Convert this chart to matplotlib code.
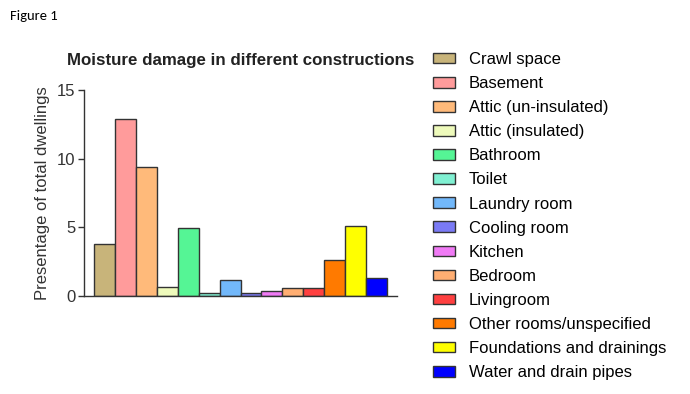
import matplotlib
matplotlib.use('Agg')
import matplotlib.pyplot as plt
from matplotlib.patches import Patch

# kategorier og verdier lest av figuren
categories = ['Crawl space', 'Basement', 'Attic (un-insulated)', 'Attic (insulated)',
              'Bathroom', 'Toilet', 'Laundry room', 'Cooling room', 'Kitchen',
              'Bedroom', 'Livingroom', 'Other rooms/unspecified',
              'Foundations and drainings', 'Water and drain pipes']
values = [3.8, 12.9, 9.4, 0.65, 4.95, 0.2, 1.2, 0.2, 0.4, 0.6, 0.6, 2.6, 5.1, 1.3]
colors = ['#C8B47A', '#FF9B9B', '#FFBA7A', '#EEFABB', '#55F595', '#80F0D2',
          '#72B8FA', '#7A7AF5', '#F07AF5', '#FFAE72', '#FF4040', '#FF7A00',
          '#FFFF00', '#0000FF']
yticks = [0, 5, 10, 15]

plt.rcParams['font.family'] = ['Liberation Sans', 'DejaVu Sans']

fig = plt.figure(figsize=(6.9, 3.94), dpi=100)
ax = fig.add_axes([84 / 690, 1 - 296 / 394, 313 / 690, 206 / 394])

x = list(range(len(values)))
ax.bar(x, values, width=1.0, color=colors, edgecolor='#333333', linewidth=1.0)

ax.set_xlim(-0.98, 13.98)
ax.set_ylim(0, 15)
ax.set_yticks(yticks)
ax.set_xticks([])
ax.tick_params(axis='y', direction='out', length=4, width=1, labelsize=12,
               colors='#333333', labelcolor='#333333', pad=2)
for s in ['top', 'right']:
    ax.spines[s].set_visible(False)
for s in ['left', 'bottom']:
    ax.spines[s].set_color('#333333')
    ax.spines[s].set_linewidth(1.0)

ax.set_ylabel('Presentage of total dwellings', fontsize=12, color='#333333', labelpad=5)
ax.set_title('Moisture damage in different constructions', fontsize=12.2,
             fontweight='bold', color='#222222', pad=18)

fig.text(10 / 690, 1 - 16 / 394, 'Figure 1', fontsize=10.5, family=['Carlito', 'Liberation Sans'],
         va='center', ha='left')

handles = [Patch(facecolor=c, edgecolor='#333333', linewidth=1.0) for c in colors]
fig.legend(handles, categories, loc='upper left', bbox_to_anchor=(433 / 690, 1 - 52 / 394),
           frameon=False, fontsize=12, handlelength=1.3, handleheight=0.6,
           labelspacing=0.545, handletextpad=0.85, borderaxespad=0, borderpad=0)

fig.savefig('out.png', dpi=100)
